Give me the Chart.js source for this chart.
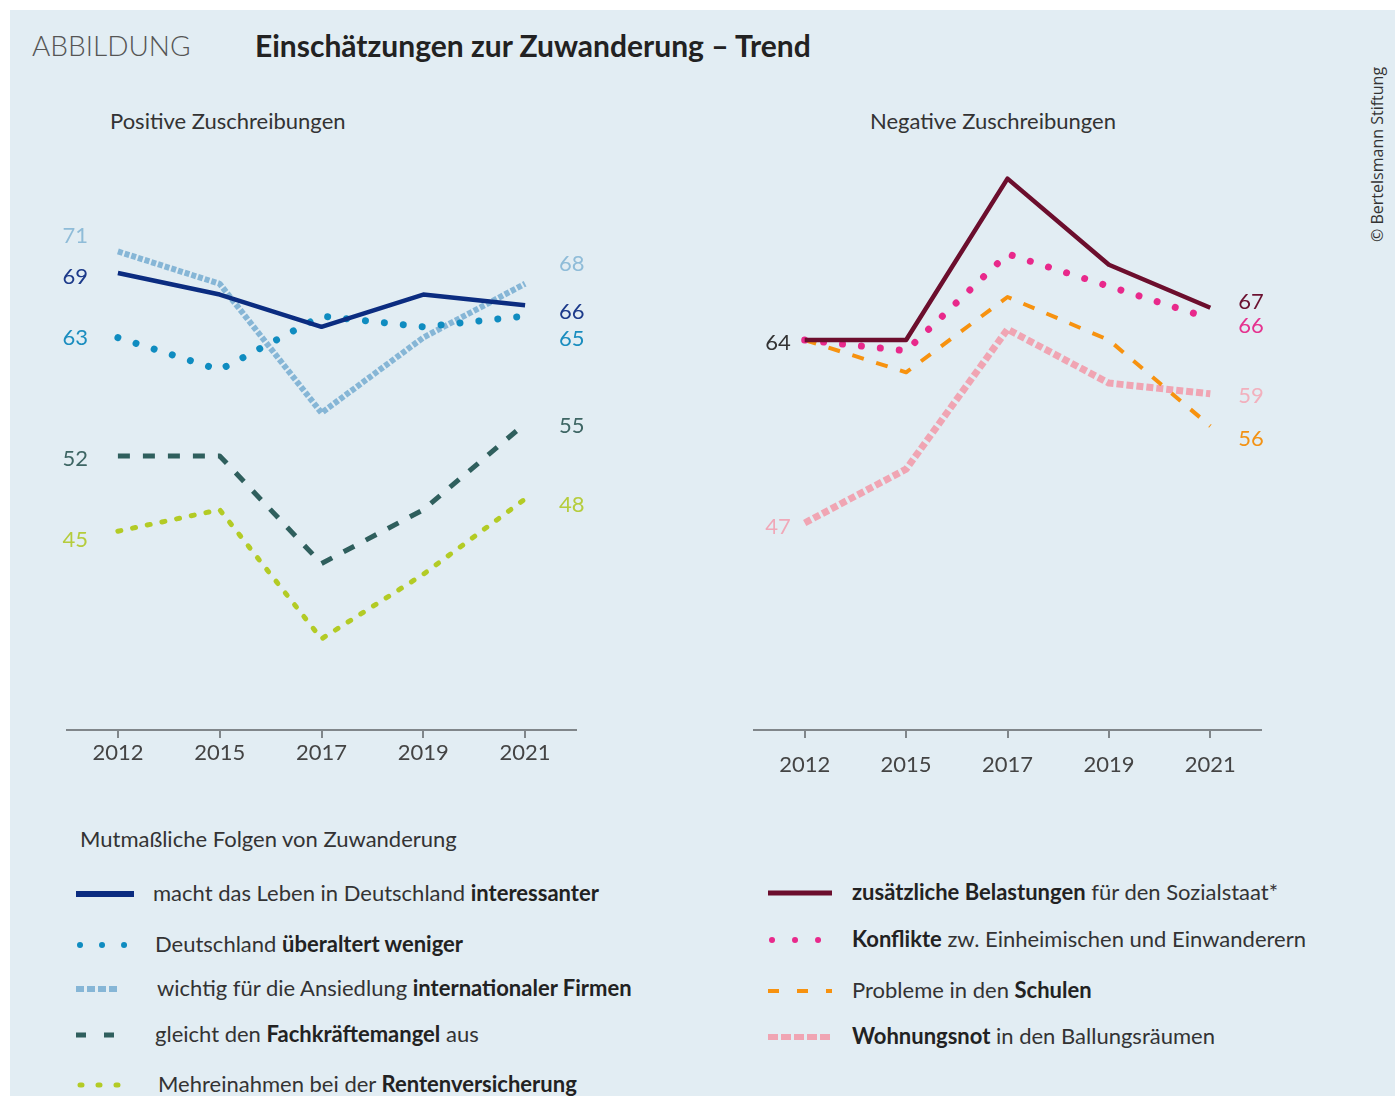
<!DOCTYPE html>
<html lang="de">
<head>
<meta charset="utf-8">
<script src="https://cdn.jsdelivr.net/npm/chart.js@4"></script>
<style>
  body { margin: 0; background: #fff; font-family: Lato, "Noto Sans", sans-serif; }
  #page { position: absolute; left: 10px; top: 10px; width: 1385px; height: 1086px; background: #e2edf3; overflow: hidden; }
  .abs { position: absolute; white-space: nowrap; }
  #kicker { left: 22px; top: 18px; font-size: 28px; font-weight: 300; color: #555; }
  #title { left: 245px; top: 17px; font-size: 30px; font-weight: 700; color: #222; }
  .sub { font-size: 22px; color: #333; line-height: 26px; }
  #copy { left: 1356px; top: 232px; font-family: "Open Sans", sans-serif; font-size: 16px; color: #333; line-height: 22px;
          transform: rotate(-90deg); transform-origin: 0 0; }
  canvas { position: absolute; }
  .leg { position: absolute; font-size: 22px; line-height: 26px; color: #333; white-space: nowrap; }
  .leg b { font-weight: 700; color: #222; }
</style>
</head>
<body>
<div id="page">
  <div class="abs" id="kicker">ABBILDUNG</div>
  <div class="abs" id="title">Einschätzungen zur Zuwanderung – Trend</div>
  <div class="abs sub" style="left:100px; top:98px;">Positive Zuschreibungen</div>
  <div class="abs sub" style="left:860px; top:98px;">Negative Zuschreibungen</div>
  <div class="abs" id="copy">© Bertelsmann Stiftung</div>
  <div class="abs sub" style="left:70px; top:816px;">Mutmaßliche Folgen von Zuwanderung</div>
</div>
<canvas id="left" width="600" height="630" style="left:20px; top:140px;"></canvas>
<canvas id="right" width="620" height="650" style="left:700px; top:140px;"></canvas>
<script>
const years = ["2012", "2015", "2017", "2019", "2021"];

// Positive Zuschreibungen
const interessanter = [69, 67, 64, 67, 66];
const ueberaltert = [63, 60, 65, 64, 65];
const firmen = [71, 68, 56, 63, 68];
const fachkraefte = [52, 52, 42, 47, 55];
const rente = [45, 47, 35, 41, 48];

// Negative Zuschreibungen
const sozialstaat = [64, 64, 79, 71, 67];
const konflikte = [64, 63, 72, 69, 66];
const schulen = [64, 61, 68, 64, 56];
const wohnungsnot = [47, 52, 65, 60, 59];

const colors = {
  navy: "#0b2c80",
  teal: "#0f8cc0",
  lightblue: "#86b6d6",
  green: "#2f5f5d",
  lime: "#b3cb25",
  maroon: "#6c0e2d",
  magenta: "#e8298b",
  orange: "#f7920f",
  pink: "#f0a5b3",
};

// Wertebeschriftung am Anfang und Ende jeder Linie
const endLabels = {
  id: "endLabels",
  afterDatasetsDraw(chart) {
    const ctx = chart.ctx;
    ctx.save();
    ctx.font = "22px Lato";
    ctx.textBaseline = "middle";
    chart.data.datasets.forEach((ds, i) => {
      const pts = chart.getDatasetMeta(i).data;
      const n = ds.data.length - 1;
      if (ds.startLabel) {
        ctx.fillStyle = ds.startLabel.color;
        ctx.textAlign = "right";
        ctx.fillText(ds.data[0], pts[0].x + ds.startLabel.dx, pts[0].y + ds.startLabel.dy);
      }
      if (ds.endLabel) {
        ctx.fillStyle = ds.endLabel.color;
        ctx.textAlign = "left";
        ctx.fillText(ds.data[n], pts[n].x + ds.endLabel.dx, pts[n].y + ds.endLabel.dy);
      }
    });
    ctx.restore();
  },
};

function makeOptions(ymin, ymax, xHeight, tickPad, padLeft, padRight) {
  return {
    responsive: false,
    animation: false,
    devicePixelRatio: 1,
    layout: { padding: { left: padLeft, right: padRight, top: 0, bottom: 0 } },
    plugins: { legend: { display: false }, tooltip: { enabled: false } },
    elements: { point: { radius: 0 }, line: { tension: 0, borderJoinStyle: "round" } },
    scales: {
      x: {
        offset: true,
        grid: { drawOnChartArea: false, drawTicks: true, tickLength: 8, color: "#80868a", lineWidth: 2 },
        border: { display: true, color: "#80868a", width: 2 },
        ticks: { font: { family: "Lato", size: 22 }, color: "#444", padding: tickPad },
        afterFit: (scale) => { scale.height = xHeight; },
      },
      y: { display: false, min: ymin, max: ymax },
    },
  };
}

new Chart(document.getElementById("left"), {
  type: "line",
  data: {
    labels: years,
    datasets: [
      {
        data: interessanter, borderColor: colors.navy, borderWidth: 4.5,
        startLabel: { color: "#1c3a8a", dx: -30, dy: 4 }, endLabel: { color: "#1c3a8a", dx: 34, dy: 7 },
      },
      {
        data: ueberaltert, borderColor: colors.teal, borderWidth: 7, borderDash: [0.01, 19], borderCapStyle: "round",
        startLabel: { color: "#1a8dbf", dx: -30, dy: 0 }, endLabel: { color: "#1a8dbf", dx: 34, dy: 23 },
      },
      {
        data: firmen, borderColor: colors.lightblue, borderWidth: 6, borderDash: [5, 2],
        startLabel: { color: "#8fbcd8", dx: -30, dy: -16 }, endLabel: { color: "#8fbcd8", dx: 34, dy: -20 },
      },
      {
        data: fachkraefte, borderColor: colors.green, borderWidth: 5, borderDash: [12, 13],
        startLabel: { color: "#3e6664", dx: -30, dy: 3 }, endLabel: { color: "#3e6664", dx: 34, dy: 2 },
      },
      {
        data: rente, borderColor: colors.lime, borderWidth: 5, borderDash: [3, 12], borderCapStyle: "round",
        startLabel: { color: "#b5cc3c", dx: -30, dy: 9 }, endLabel: { color: "#b5cc3c", dx: 34, dy: 6 },
      },
    ],
  },
  options: makeOptions(26.53, 81.36, 40, 2, 47, 44),
  plugins: [endLabels],
});

new Chart(document.getElementById("right"), {
  type: "line",
  data: {
    labels: years,
    datasets: [
      {
        data: sozialstaat, borderColor: colors.maroon, borderWidth: 4.5,
        startLabel: { color: "#333", dx: -14, dy: 3 }, endLabel: { color: "#6b1130", dx: 28, dy: -6 },
      },
      {
        data: konflikte, borderColor: colors.magenta, borderWidth: 7, borderDash: [0.01, 19], borderCapStyle: "round",
        endLabel: { color: "#e5328f", dx: 28, dy: 7 },
      },
      {
        data: schulen, borderColor: colors.orange, borderWidth: 4, borderDash: [12, 13],
        endLabel: { color: "#f39214", dx: 28, dy: 13 },
      },
      {
        data: wohnungsnot, borderColor: colors.pink, borderWidth: 7, borderDash: [7, 3],
        startLabel: { color: "#f0a8b8", dx: -14, dy: 4 }, endLabel: { color: "#f2b0bd", dx: 28, dy: 2 },
      },
    ],
  },
  options: makeOptions(27.76, 82.59, 60, 14, 54, 59),
  plugins: [endLabels],
});

// Legende als HTML, Muster als kleine SVG-Linien
const legendLeft = [
  { html: "macht das Leben in Deutschland <b>interessanter</b>", color: colors.navy, w: 6, dash: "", cap: "butt", len: 58, y: 880, x: 153 },
  { html: "Deutschland <b>überaltert weniger</b>", color: colors.teal, w: 6, dash: "0.01 22", cap: "round", len: 52, y: 931, x: 155 },
  { html: "wichtig für die Ansiedlung <b>internationaler Firmen</b>", color: colors.lightblue, w: 6, dash: "8 3", cap: "butt", len: 43, y: 975, x: 157 },
  { html: "gleicht den <b>Fachkräftemangel</b> aus", color: colors.green, w: 5, dash: "10 18", cap: "butt", len: 40, y: 1021, x: 155 },
  { html: "Mehreinahmen bei der <b>Rentenversicherung</b>", color: colors.lime, w: 5, dash: "2 16", cap: "round", len: 40, y: 1071, x: 158 },
];
const legendRight = [
  { html: "<b>zusätzliche Belastungen</b> für den Sozialstaat*", color: colors.maroon, w: 5, dash: "", cap: "butt", len: 64, y: 879, x: 852 },
  { html: "<b>Konflikte</b> zw. Einheimischen und Einwanderern", color: colors.magenta, w: 6, dash: "0.01 23", cap: "round", len: 50, y: 926, x: 852 },
  { html: "Probleme in den <b>Schulen</b>", color: colors.orange, w: 4, dash: "11 18", cap: "butt", len: 64, y: 977, x: 852 },
  { html: "<b>Wohnungsnot</b> in den Ballungsräumen", color: colors.pink, w: 6, dash: "10 3", cap: "butt", len: 64, y: 1023, x: 852 },
];

function addLegend(items, sampleX) {
  items.forEach((it) => {
    const d = document.createElement("div");
    d.className = "leg";
    d.style.left = it.x + "px";
    d.style.top = it.y + "px";
    d.innerHTML = it.html;
    document.body.appendChild(d);
    const s = document.createElementNS("http://www.w3.org/2000/svg", "svg");
    s.setAttribute("width", 80);
    s.setAttribute("height", 20);
    s.style.position = "absolute";
    s.style.left = sampleX + "px";
    s.style.top = it.y + 3 + "px";
    const ln = document.createElementNS("http://www.w3.org/2000/svg", "line");
    const x0 = it.cap === "round" ? 4 : 0;
    ln.setAttribute("x1", x0);
    ln.setAttribute("x2", x0 + it.len);
    ln.setAttribute("y1", 11);
    ln.setAttribute("y2", 11);
    ln.setAttribute("stroke", it.color);
    ln.setAttribute("stroke-width", it.w);
    ln.setAttribute("stroke-linecap", it.cap);
    if (it.dash) ln.setAttribute("stroke-dasharray", it.dash);
    s.appendChild(ln);
    document.body.appendChild(s);
  });
}
addLegend(legendLeft, 76);
addLegend(legendRight, 768);
</script>
</body>
</html>
